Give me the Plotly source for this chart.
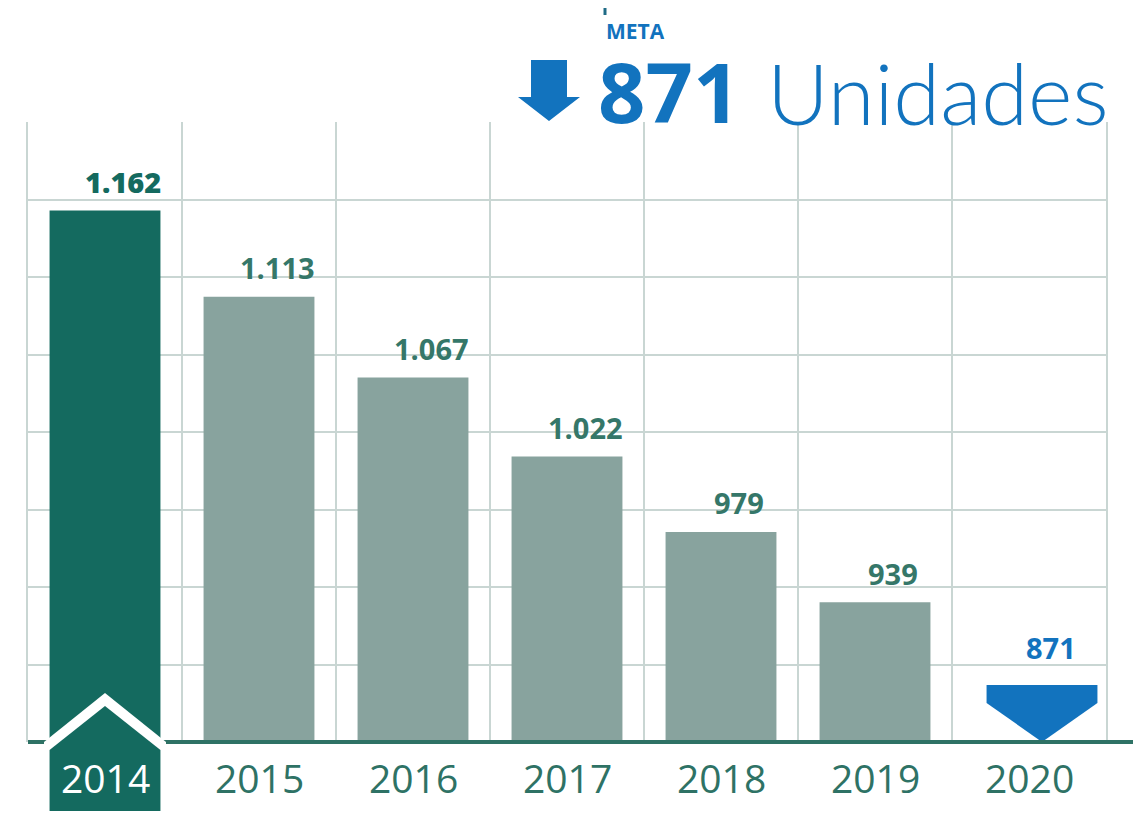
import plotly.graph_objects as go

# ---- data ----
years = ["2014", "2015", "2016", "2017", "2018", "2019", "2020"]
values = [1162, 1113, 1067, 1022, 979, 939, 871]
goal_index = 6            # 2020 is the goal (meta), drawn as an arrow, not a bar
title_tag = "META"
title_number = "871"
title_unit = "Unidades"

# ---- style / geometry (reference pixel coordinates) ----
PAGE_OFF = 8                     # default body margin of the html page
W, H = 1144 - PAGE_OFF, 821 - PAGE_OFF
PLOT_L, PLOT_R, PLOT_T, PLOT_BASE = 28, 1106, 122, 742
PW, PH = PLOT_R - PLOT_L, PLOT_BASE - PLOT_T
L = PLOT_L - PAGE_OFF
T = PLOT_T - PAGE_OFF
R = W - (PLOT_R - PAGE_OFF)
B = H - (PLOT_BASE - PAGE_OFF)
Y0, DT = 859.4, 44.125
Y1 = Y0 + 8 * DT
BAR_W = 0.72
N = len(years)
GOAL_SHIFT = 13 / PW             # goal arrow sits a bit right of its slot centre

DARK = "#146A5F"
GREY = "#88A39E"
LABEL = "#357769"
AXIS = "#2E7265"
GRID = "#C9D6D3"
BLUE = "#1273BE"
FONT = "Open Sans"


def fmt(v):
    return f"{v:,}".replace(",", ".")


def px_x(px):
    return (px - PLOT_L) / PW


def px_y(py):
    return (PLOT_BASE - py) / PH


def py_val(py):
    return Y0 + (PLOT_BASE - py) / PH * (Y1 - Y0)


def idx_x(i):
    return (i + 0.5) / N


fig = go.Figure()

bar_years = years[:goal_index]
bar_vals = values[:goal_index]
fig.add_trace(go.Bar(
    x=bar_years, y=bar_vals,
    marker=dict(color=[DARK] + [GREY] * (len(bar_vals) - 1), line=dict(width=0)),
    width=BAR_W, hoverinfo="x+y",
))

shapes = []
half = BAR_W / 2 / N               # half bar width in paper units
top_px, shoulder_px = 685, 703
gx = idx_x(goal_index) + GOAL_SHIFT
path = (f"M {gx - half} {px_y(top_px)} L {gx + half} {px_y(top_px)} "
        f"L {gx + half} {px_y(shoulder_px)} L {gx} {px_y(PLOT_BASE)} "
        f"L {gx - half} {px_y(shoulder_px)} Z")
shapes.append(dict(type="path", xref="paper", yref="paper", path=path,
                   fillcolor=BLUE, line=dict(width=0), layer="above"))
# axis line
shapes.append(dict(type="line", xref="paper", yref="paper", x0=0, x1=px_x(1133),
                   y0=0, y1=0, line=dict(color=AXIS, width=4), layer="above"))
# 2014 house: white outline then green body
hx = idx_x(0)
wo = 61 / PW
wpath = (f"M {hx} {px_y(693)} L {hx + wo} {px_y(742)} L {hx + wo} {px_y(752)} "
         f"L {hx - wo} {px_y(752)} L {hx - wo} {px_y(742)} Z")
shapes.append(dict(type="path", xref="paper", yref="paper", path=wpath,
                   fillcolor="white", line=dict(width=0), layer="above"))
gpath = (f"M {hx} {px_y(706)} L {hx + half} {px_y(750)} L {hx + half} {px_y(811)} "
         f"L {hx - half} {px_y(811)} L {hx - half} {px_y(750)} Z")
shapes.append(dict(type="path", xref="paper", yref="paper", path=gpath,
                   fillcolor=DARK, line=dict(width=0), layer="above"))
# title arrow
apath = (f"M {px_x(531)} {px_y(60)} L {px_x(567)} {px_y(60)} L {px_x(567)} {px_y(97)} "
         f"L {px_x(580)} {px_y(97)} L {px_x(549)} {px_y(121)} L {px_x(518)} {px_y(97)} "
         f"L {px_x(531)} {px_y(97)} Z")
shapes.append(dict(type="path", xref="paper", yref="paper", path=apath,
                   fillcolor=BLUE, line=dict(width=0), layer="above"))
# small tick above META
shapes.append(dict(type="line", xref="paper", yref="paper", x0=px_x(605), x1=px_x(605),
                   y0=px_y(0), y1=px_y(15), line=dict(color="#1F6B86", width=3), layer="above"))

annotations = []
# value labels (category axis: x given as category index)
for i, v in enumerate(values):
    if i == goal_index:
        annotations.append(dict(x=i, y=py_val(top_px), xref="x", yref="y", text=fmt(v),
                                showarrow=False, yanchor="middle", yshift=38, xshift=22,
                                font=dict(family=FONT, size=29, color=BLUE, weight=700)))
    else:
        annotations.append(dict(x=i, y=v, xref="x", yref="y", text=fmt(v),
                                showarrow=False, yanchor="middle", yshift=29, xshift=18,
                                font=dict(family=FONT, size=29, weight=800 if i == 0 else 700,
                                          color=DARK if i == 0 else LABEL)))
# year labels
for i, yr in enumerate(years):
    annotations.append(dict(x=i, y=px_y(777), xref="x", yref="paper", text=yr,
                            showarrow=False, yanchor="middle",
                            font=dict(family=FONT, size=39, color="white" if i == 0 else AXIS)))
# title
annotations.append(dict(x=px_x(604), y=px_y(31), xref="paper", yref="paper", text=title_tag,
                        showarrow=False, xanchor="left", yanchor="middle", height=22,
                        font=dict(family=FONT, size=21, color=BLUE, weight=700)))
annotations.append(dict(x=px_x(596), y=px_y(90), xref="paper", yref="paper", text=title_number,
                        showarrow=False, xanchor="left", yanchor="middle", height=72,
                        font=dict(family=FONT, size=83, color=BLUE, weight=700)))
annotations.append(dict(x=px_x(765), y=px_y(92), xref="paper", yref="paper", text=title_unit,
                        showarrow=False, xanchor="left", yanchor="middle", height=72,
                        font=dict(family="Lato", size=85, color=BLUE, weight=300)))

fig.update_layout(
    width=W, height=H,
    margin=dict(l=L, r=R, t=T, b=B, pad=0),
    paper_bgcolor="white", plot_bgcolor="white",
    showlegend=False,
    bargap=1 - BAR_W,
    shapes=shapes, annotations=annotations,
    xaxis=dict(type="category", categoryorder="array", categoryarray=years,
               range=[-0.5, N - 0.5], tickson="boundaries", showgrid=True,
               gridcolor=GRID, gridwidth=2, showticklabels=False, ticks="",
               showline=False, zeroline=False, fixedrange=True),
    yaxis=dict(range=[Y0, Y1 + 0.05], tick0=Y0, dtick=DT, tickmode="linear",
               showgrid=True, gridcolor=GRID, gridwidth=2, showticklabels=False,
               ticks="", zeroline=False, showline=True, mirror=True,
               linecolor=GRID, linewidth=2, fixedrange=True),
)

fig.write_html("out.html")
